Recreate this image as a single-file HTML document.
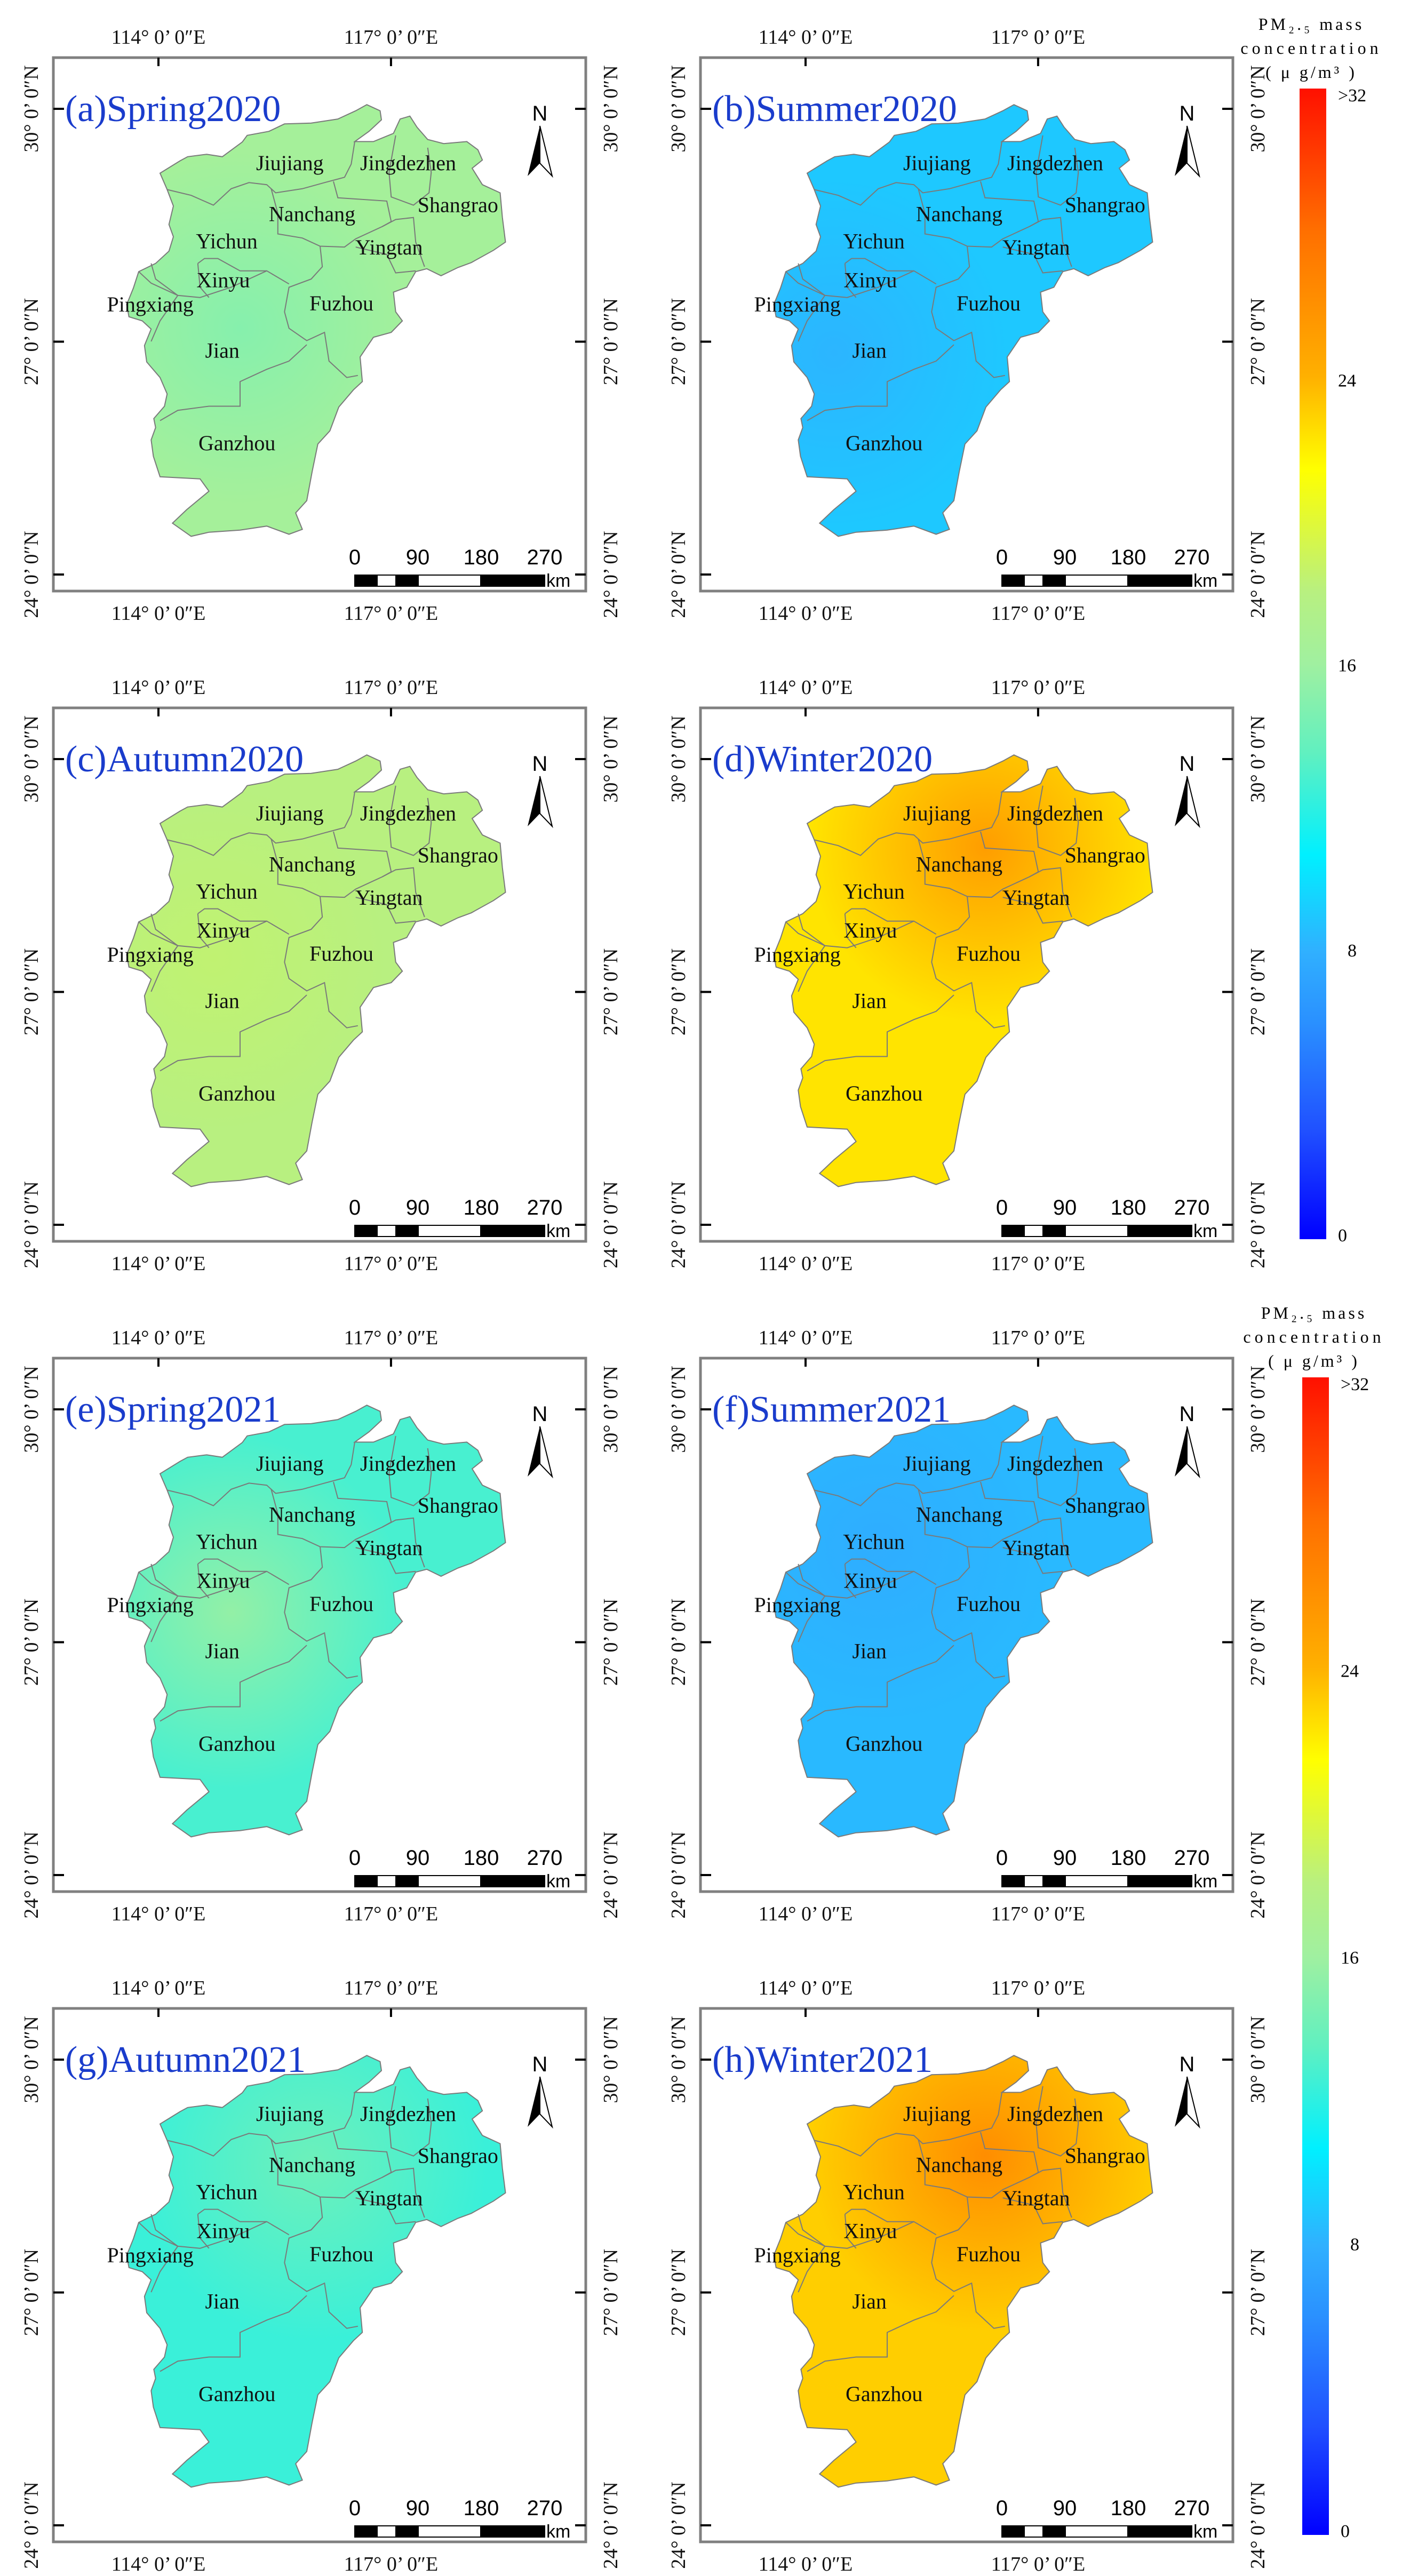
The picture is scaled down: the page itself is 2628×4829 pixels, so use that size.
<!DOCTYPE html>
<html><head><meta charset="utf-8"><style>
html,body{margin:0;padding:0;background:#fff;}
svg{display:block;}
.serif{font-family:"Liberation Serif","DejaVu Serif",serif;}
.sans{font-family:"Liberation Sans","DejaVu Sans",sans-serif;}
</style></head><body>
<svg id="fig" xmlns="http://www.w3.org/2000/svg" width="2628" height="4829" viewBox="0 0 2628 4829"></svg>
<script>
// ---- data ----
const panelTitles = ["(a)Spring2020","(b)Summer2020","(c)Autumn2020","(d)Winter2020","(e)Spring2021","(f)Summer2021","(g)Autumn2021","(h)Winter2021"];
const panelMean = [16.4, 9.0, 18.0, 22.3, 12.8, 8.4, 12.4, 23.0];
const panelHotspot = [15.0, 8.2, 18.4, 25.2, 15.5, 7.8, 14.0, 26.2];
const colorbarTicks = [0, 8, 16, 24, 32];
const colorbarTickLabels = ["0","8","16","24",">32"];
const cityNames = ["Jiujiang","Jingdezhen","Shangrao","Nanchang","Yichun","Yingtan","Xinyu","Pingxiang","Fuzhou","Jian","Ganzhou"];
const lonTicks = [114, 117];
const latTicks = [30, 27, 24];
const scaleLabels = ["0","90","180","270"];

// ---- layout ----
const W = 998, H = 1000;
const colX = [100, 1313];
const rowY = [108, 1327, 2546, 3765];
const NS = "http://www.w3.org/2000/svg";
const svg = document.getElementById('fig');
function mk(tag, attrs, parent){const e=document.createElementNS(NS,tag);for(const k in attrs)e.setAttribute(k,attrs[k]);(parent||svg).appendChild(e);return e;}
function lonX(lon){return 197 + (lon-114)*145.3;}
function latY(lat){return 96 + (30-lat)*145.5;}
function fx(X){return X/1.2-100;}
function fy(Y){return Y/1.3-108;}
function tp(pts){return pts.map(p=>fx(p[0]).toFixed(1)+','+fy(p[1]).toFixed(1)).join(' ');}

// colormap
const cmV=[0,3,6,8,10.7,13.5,16,18,21.4,24,28,32];
const cmC=["#0000ff","#2050ff","#2a90ff","#30b0ff","#00f0ff","#60f0c0","#a0f0a0","#b8f080","#ffff00","#ffb000","#ff7000","#ff1000"];
function hx(c){return [1,3,5].map(i=>parseInt(c.substr(i,2),16));}
function cmap(v){v=Math.max(0,Math.min(32,v));for(let i=0;i<cmV.length-1;i++){if(v<=cmV[i+1]){const t=(v-cmV[i])/(cmV[i+1]-cmV[i]);const a=hx(cmC[i]),b=hx(cmC[i+1]);return 'rgb('+a.map((x,j)=>Math.round(x+(b[j]-x)*t)).join(',')+')';}}return cmC[cmC.length-1];}

const outline=[[825,255],[855,270],[858,292],[830,320],[798,345],[840,345],[885,325],[900,290],[922,283],[938,310],[962,340],[998,350],[1050,345],[1075,365],[1085,390],[1062,410],[1085,450],[1125,470],[1130,530],[1137,590],[1110,610],[1060,640],[1030,652],[992,672],[960,655],[935,662],[915,700],[885,712],[890,760],[905,782],[880,810],[840,822],[810,870],[815,930],[795,950],[762,992],[742,1050],[715,1082],[702,1150],[690,1220],[665,1250],[680,1290],[650,1302],[600,1282],[540,1292],[470,1297],[430,1307],[388,1275],[420,1242],[470,1197],[450,1167],[360,1162],[345,1112],[340,1072],[350,1042],[346,1020],[370,990],[376,960],[360,920],[330,882],[325,842],[340,802],[320,782],[290,772],[285,742],[300,702],[312,662],[350,642],[380,612],[390,577],[380,547],[390,502],[376,462],[360,422],[405,392],[422,382],[465,376],[500,382],[545,346],[556,330],[605,320],[640,302],[700,300],[760,290],[800,270]];
const borders=[
 [[376,462],[430,476],[480,500],[520,460],[560,445],[600,450],[620,470],[680,460],[730,445],[775,432],[790,400],[798,345]],
 [[610,460],[625,520],[625,570],[680,580],[720,600],[775,602],[800,582],[860,552],[880,540],[870,490],[760,482],[750,442]],
 [[890,330],[875,420],[880,480],[930,500],[965,470],[970,420],[962,360]],
 [[860,552],[890,535],[930,530],[935,590],[955,650]],[[935,660],[890,665],[870,620],[800,602]],
 [[720,600],[725,650],[700,680],[650,700],[640,760],[650,800],[690,830],[730,810],[740,880],[780,920],[805,915]],
 [[340,642],[350,680],[400,720],[450,725],[520,700],[600,660],[650,692]],
 [[445,642],[460,630],[490,630],[540,660],[600,660]],[[470,725],[450,700],[445,642]],
 [[312,662],[340,690],[400,720],[360,782],[340,832]],
 [[360,1025],[400,1000],[470,990],[540,990],[540,930],[600,900],[650,880],[690,840]]
];
const cityPos=[[652,398],[918,398],[1030,500],[702,522],[510,588],[875,603],[502,683],[338,742],[768,740],[500,855],[533,1080]];
const hotC=[[540,800],[420,860],[480,750],[760,480],[520,760],[520,600],[700,520],[760,500]];

// ---- panels ----
panelTitles.forEach((title,i)=>{
  const ox=colX[i%2], oy=rowY[Math.floor(i/2)];
  const g=mk('g',{transform:`translate(${ox},${oy})`});
  
  
  const defs=mk('defs',{},g);
  const cp=mk('clipPath',{id:'clip'+i},defs);
  mk('polygon',{points:tp(outline)},cp);
  const rg=mk('radialGradient',{id:'hot'+i,cx:fx(hotC[i][0]),cy:fy(hotC[i][1]),r:330,gradientUnits:'userSpaceOnUse'},defs);
  mk('stop',{offset:'0','stop-color':cmap(panelHotspot[i]),'stop-opacity':'1'},rg);
  mk('stop',{offset:'1','stop-color':cmap(panelHotspot[i]),'stop-opacity':'0'},rg);
  const base=mk('polygon',{points:tp(outline),fill:cmap(panelMean[i]),stroke:'none'},g);
  
  
  const hot=mk('rect',{x:0,y:0,width:W,height:H,fill:`url(#hot${i})`,'clip-path':`url(#clip${i})`},g);
  
  
  borders.forEach(b=>{const l=mk('polyline',{points:tp(b),fill:'none',stroke:'#7a7a7a','stroke-width':2},g);
    
    });
  const ol=mk('polygon',{points:tp(outline),fill:'none',stroke:'#7a7a7a','stroke-width':2},g);
  
  
  cityNames.forEach((n,k)=>{const t=mk('text',{x:fx(cityPos[k][0]),y:fy(cityPos[k][1])+13,'text-anchor':'middle','font-size':40,fill:'#111',class:'serif'},g);t.textContent=n;
    
    });
  const fr=mk('rect',{x:0,y:0,width:W,height:H,fill:'none',stroke:'#808080','stroke-width':5},g);
  
  
  lonTicks.forEach(lon=>{
    mk('line',{x1:lonX(lon),y1:0,x2:lonX(lon),y2:16,stroke:'#000','stroke-width':4},g);
    [-26,H+54].forEach(yy=>{const t=mk('text',{x:lonX(lon),y:yy,'text-anchor':'middle','font-size':38,class:'serif',fill:'#111'},g);t.textContent=lon+'°  0\u2019 0\u2033E';
      
      });
  });
  latTicks.forEach(lat=>{
    mk('line',{x1:0,y1:latY(lat),x2:20,y2:latY(lat),stroke:'#000','stroke-width':4},g);
    mk('line',{x1:W-20,y1:latY(lat),x2:W,y2:latY(lat),stroke:'#000','stroke-width':4},g);
    [-42,W+46].forEach(xx=>{const t=mk('text',{x:0,y:0,transform:`translate(${xx},${latY(lat)}) rotate(-90)`,'text-anchor':'middle','font-size':38,class:'serif',fill:'#111',dy:13},g);t.textContent=lat+'°  0\u2019 0\u2033N';
      
      });
  });
  const tt=mk('text',{x:22,y:119,'font-size':70,class:'serif',fill:'#1a3ccc'},g);tt.textContent=title;
  
  
  const na=mk('g',{},g);
  
  
  const nt=mk('text',{x:912,y:118,'text-anchor':'middle','font-size':40,class:'sans'},na);nt.textContent='N';
  mk('polygon',{points:'912,128 889,222 912,198',fill:'#000'},na);
  mk('polygon',{points:'912,128 935,222 912,198',fill:'#fff',stroke:'#000','stroke-width':2},na);
  const sb=mk('g',{},g);
  
  
  const segs=[[565,607,'#000'],[607,642,'#fff'],[642,684,'#000'],[684,801,'#fff'],[801,921,'#000']];
  segs.forEach(s=>mk('rect',{x:s[0],y:970,width:s[1]-s[0],height:21,fill:s[2],stroke:'#000','stroke-width':2},sb));
  const slx=[565,683,802,921];
  scaleLabels.forEach((l,k)=>{const t=mk('text',{x:slx[k],y:950,'text-anchor':'middle','font-size':40,class:'sans'},sb);t.textContent=l;});
  const km=mk('text',{x:924,y:992,'font-size':34,class:'sans'},sb);km.textContent='km';
});

// ---- colorbars ----
const cbs=[{x:2436,top:166,bot:2323,t:46},{x:2441,top:2582,bot:4752,t:2462}];
cbs.forEach((cb,ci)=>{
  const g=mk('g',{});
  
  
  const lg=mk('linearGradient',{id:'cbg'+ci,x1:0,y1:1,x2:0,y2:0},mk('defs',{},g));
  cmV.forEach((v,k)=>mk('stop',{offset:(v/32).toFixed(3),'stop-color':cmC[k]},lg));
  mk('rect',{x:cb.x,y:cb.top,width:50,height:cb.bot-cb.top,fill:`url(#cbg${ci})`},g);
  const lines=['PM\u2082.\u2085 mass','concentration','( \u03bc g/m\u00b3 )'];
  lines.forEach((l,k)=>{const t=mk('text',{x:cb.x+22,y:cb.t+k*45+10,'text-anchor':'middle','font-size':32,class:'serif','letter-spacing':k==1?7:5},g);t.textContent=l;
    
    });
  colorbarTicks.forEach((v,k)=>{const y=cb.bot-(v/32)*(cb.bot-cb.top-20)-8;
    const t=mk('text',{x:cb.x+(k==1?90:72),y:y+12,'font-size':34,class:'serif'},g);t.textContent=colorbarTickLabels[k];
    
    });
});
</script>
</body></html>
